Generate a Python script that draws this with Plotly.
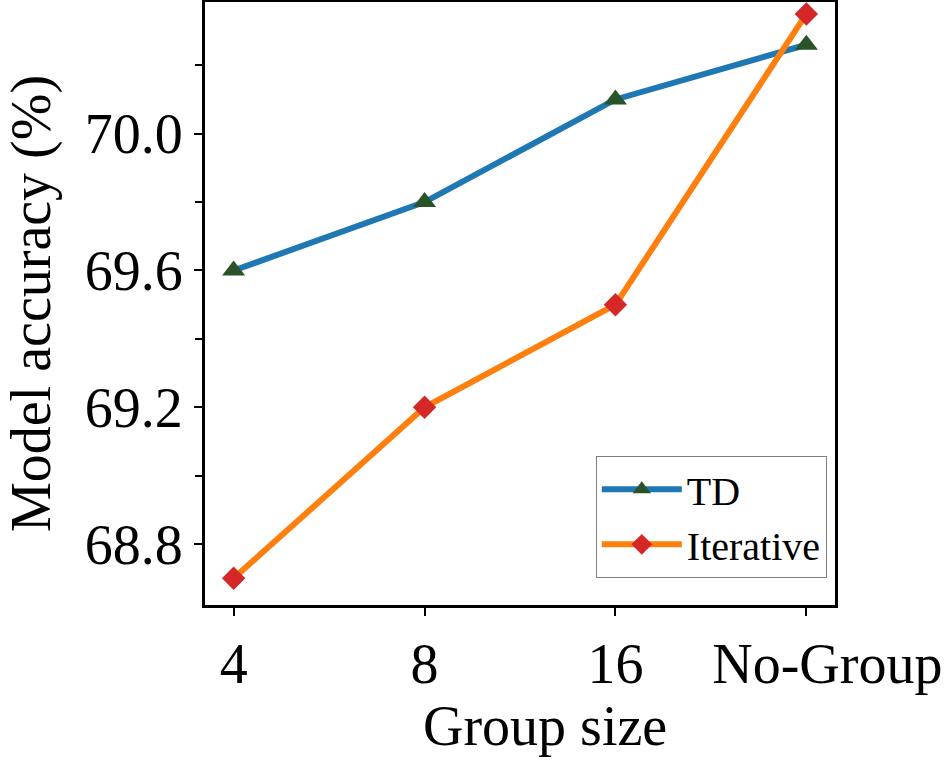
import plotly.graph_objects as go

# data
group_sizes = ["4", "8", "16", "No-Group"]
td_acc = [69.60, 69.80, 70.10, 70.26]
iterative_acc = [68.70, 69.20, 69.50, 70.35]

FONT = "Liberation Serif, Times New Roman, serif"
NBSP = "\u00a0"

fig = go.Figure()

fig.add_trace(go.Scatter(
    x=group_sizes, y=td_acc, name="TD", mode="lines+markers",
    line=dict(color="#1f77b4", width=6),
    marker=dict(symbol="triangle-up", size=20, color="#2b5329"),
))
fig.add_trace(go.Scatter(
    x=group_sizes, y=iterative_acc, name="Iterative", mode="lines+markers",
    line=dict(color="#ff7f0e", width=6),
    marker=dict(symbol="diamond", size=18, color="#d62728"),
))

axis_common = dict(
    showline=True, linecolor="black", linewidth=3, mirror=True,
    ticks="outside", ticklen=8, tickwidth=2, tickcolor="black",
    showgrid=False, zeroline=False, automargin=False,
    tickfont=dict(family=FONT, size=56, color="black"),
)

# the last label and the x title sit a little right of centre in the original
tick_text = group_sizes[:-1] + [NBSP * 3 + group_sizes[-1]]

fig.update_xaxes(
    **axis_common,
    type="category",
    range=[-0.15, 3.15],
    tickvals=group_sizes, ticktext=tick_text,
)
fig.update_yaxes(
    **axis_common,
    range=[68.622, 70.385],
    tick0=68.8, dtick=0.4, tickformat=".1f",
    minor=dict(tick0=68.8, dtick=0.2, ticks="outside", ticklen=7, tickwidth=2, tickcolor="black"),
    title=dict(text="Model accuracy (%)", font=dict(family=FONT, size=56, color="black"), standoff=18),
)

# x title as an annotation so it can sit slightly right of the plot centre
fig.add_annotation(
    text="Group size", xref="paper", yref="paper", x=0.54, y=-0.2,
    xanchor="center", yanchor="middle", showarrow=False,
    font=dict(family=FONT, size=56, color="black"),
)

fig.update_layout(
    width=952, height=762,
    margin=dict(l=205, r=117, t=2, b=157),
    plot_bgcolor="white", paper_bgcolor="white",
    font=dict(family=FONT, color="black"),
    showlegend=True,
    legend=dict(
        x=0.987, y=0.045, xanchor="right", yanchor="bottom",
        bgcolor="white", bordercolor="#808080", borderwidth=1,
        font=dict(family=FONT, size=40, color="black"),
        tracegroupgap=0, itemwidth=80,
    ),
)

# drop the browser's default page margin so the figure sits at (0, 0)
fig.write_html("out.html", config={"displayModeBar": False},
               post_script="document.body.style.margin='0';")
